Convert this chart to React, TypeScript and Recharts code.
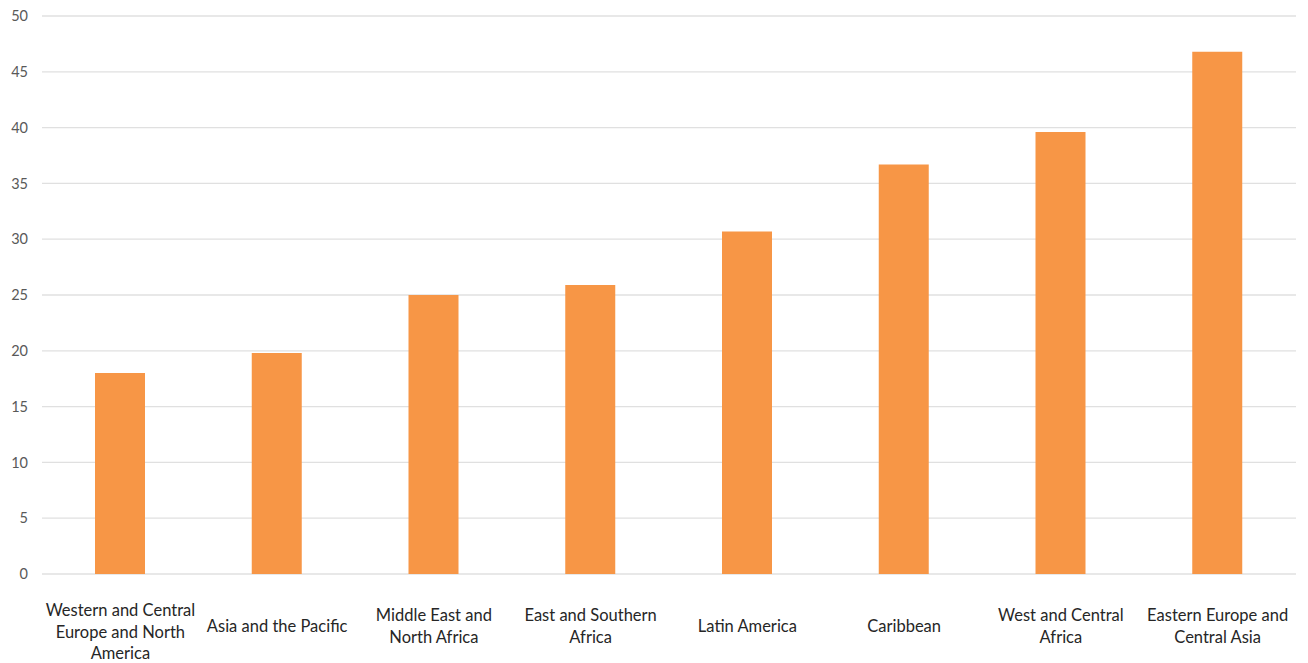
import React from 'react';
import { BarChart, Bar, XAxis, YAxis, CartesianGrid } from 'recharts';

const regions = [
  'Western and Central Europe and North America',
  'Asia and the Pacific',
  'Middle East and North Africa',
  'East and Southern Africa',
  'Latin America',
  'Caribbean',
  'West and Central Africa',
  'Eastern Europe and Central Asia',
];

const values = [18.0, 19.8, 25.0, 25.9, 30.7, 36.7, 39.6, 46.8];

const yTicks = [0, 5, 10, 15, 20, 25, 30, 35, 40, 45, 50];

// line breaks for the category labels
const labelLines: Record<string, string[]> = {
  'Western and Central Europe and North America': ['Western and Central', 'Europe and North', 'America'],
  'Asia and the Pacific': ['Asia and the Pacific'],
  'Middle East and North Africa': ['Middle East and', 'North Africa'],
  'East and Southern Africa': ['East and Southern', 'Africa'],
  'Latin America': ['Latin America'],
  'Caribbean': ['Caribbean'],
  'West and Central Africa': ['West and Central', 'Africa'],
  'Eastern Europe and Central Asia': ['Eastern Europe and', 'Central Asia'],
};

const data = regions.map((region, i) => ({ region, value: values[i] }));

const FONT = 'Lato, "Open Sans", sans-serif';

const CategoryTick = (props: any) => {
  const { x, y, payload } = props;
  const lines = labelLines[payload.value] || [payload.value];
  const lineH = lines.length > 2 ? 21.5 : 22;
  const top = Math.max(28, 44 - (lines.length - 1) * (lineH / 2));
  return (
    <g transform={`translate(${x},${y})`}>
      {lines.map((ln, i) => (
        <text
          key={i}
          x={0}
          y={top + i * lineH}
          textAnchor="middle"
          dominantBaseline="central"
          fill="#262626"
          fontSize={16.5}
          fontFamily={FONT}
        >
          {ln}
        </text>
      ))}
    </g>
  );
};

export default function App() {
  return (
    <div style={{ position: 'absolute', left: 0, top: 0, background: '#fff' }}>
      <BarChart
        width={1308}
        height={663}
        data={data}
        margin={{ top: 16, right: 12, bottom: 0, left: 1 }}
        barCategoryGap={0}
      >
        <CartesianGrid vertical={false} stroke="#e0e0e0" strokeWidth={1.3} />
        <XAxis
          dataKey="region"
          axisLine={false}
          tickLine={false}
          interval={0}
          tick={<CategoryTick />}
          height={89}
        />
        <YAxis
          domain={[0, 50]}
          ticks={yTicks}
          axisLine={false}
          tickLine={false}
          width={41}
          tickMargin={8}
          tick={{ fill: '#595959', fontSize: 14.5, fontFamily: FONT }}
        />
        <Bar dataKey="value" fill="#f79646" barSize={50} isAnimationActive={false} />
      </BarChart>
    </div>
  );
}
